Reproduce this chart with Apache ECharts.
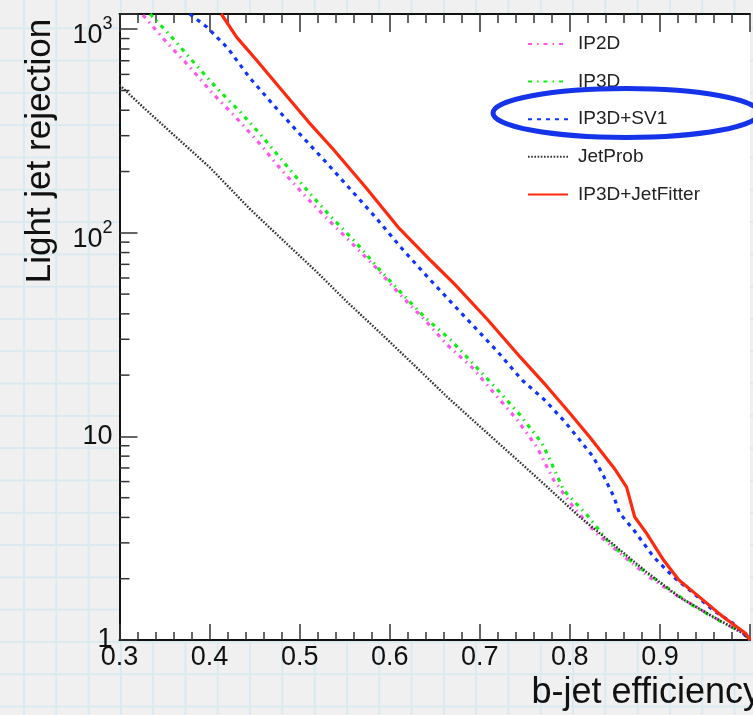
<!DOCTYPE html>
<html>
<head>
<meta charset="utf-8">
<script src="https://cdn.jsdelivr.net/npm/echarts@6/dist/echarts.min.js"></script>
<style>
html, body { margin: 0; padding: 0; }
body {
  width: 753px; height: 715px; overflow: hidden;
  background-color: #f0f0f0;
  background-image:
    linear-gradient(to right, #d9eaf0 2px, transparent 2px),
    linear-gradient(to bottom, #d9eaf0 2px, transparent 2px);
  background-size: 32.3px 32.3px;
  background-position: 23px 27.3px;
}
#main { width: 753px; height: 715px; }
</style>
</head>
<body>
<div id="main"></div>
<script>
// b-jet efficiency vs light jet rejection
var names = ['IP2D', 'IP3D', 'IP3D+SV1', 'JetProb', 'IP3D+JetFitter'];

var ip2d = [[0.326,1174],[0.352,865],[0.378,652],[0.403,486],[0.430,366],[0.455,276],[0.480,203],
  [0.507,150],[0.532,115.6],[0.560,87.1],[0.585,67.2],[0.612,49.5],[0.639,37.3],[0.664,28.1],
  [0.692,21.7],[0.716,16.3],[0.742,12.0],[0.764,8.77],[0.782,6.11],[0.804,4.50],[0.828,3.39],
  [0.855,2.68],[0.888,2.04],[0.921,1.63],[0.959,1.30],[0.992,1.08],[1.0,1.0]];

var ip3d = [[0.334,1188],[0.358,915],[0.383,682],[0.408,514],[0.435,388],[0.460,292],[0.485,215],
  [0.510,158.6],[0.535,119.6],[0.562,90.1],[0.587,67.2],[0.613,50.6],[0.640,38.1],[0.668,29.7],
  [0.694,22.4],[0.720,16.9],[0.745,12.7],[0.769,9.28],[0.777,7.83],[0.793,5.45],[0.819,4.11],
  [0.844,2.99],[0.872,2.36],[0.904,1.86],[0.935,1.49],[0.968,1.23],[0.995,1.07],[1.0,1.0]];

var sv1 = [[0.378,1188],[0.397,1025],[0.420,809],[0.444,582],[0.469,434],[0.496,320],[0.529,223],
  [0.554,168],[0.584,119.6],[0.613,84.2],[0.642,60.7],[0.668,45.7],[0.694,34.5],[0.720,26.0],
  [0.747,18.9],[0.772,15.1],[0.793,12.0],[0.811,9.6],[0.826,7.92],[0.838,6.32],[0.849,5.04],
  [0.855,4.21],[0.871,3.47],[0.893,2.56],[0.915,2.04],[0.937,1.70],[0.959,1.40],[0.981,1.21],[1.0,1.0]];

var jetProb = [[0.300,532],[0.326,415],[0.363,295],[0.400,210],[0.444,132],[0.480,93.3],[0.518,64.9],
  [0.554,45.2],[0.591,31.8],[0.628,22.2],[0.664,15.6],[0.701,11.1],[0.738,7.92],[0.775,5.64],
  [0.811,4.02],[0.849,2.93],[0.885,2.16],[0.921,1.63],[0.959,1.30],[0.992,1.08],[1.0,1.0]];

var jetFitter = [[0.413,1188],[0.430,915],[0.452,706],[0.480,503],[0.510,350],[0.538,255],[0.573,168],
  [0.609,107],[0.646,72.7],[0.672,56.0],[0.709,37.3],[0.745,24.5],[0.775,17.5],[0.800,13.0],
  [0.822,9.93],[0.849,7.0],[0.863,5.64],[0.872,4.02],[0.885,3.35],[0.904,2.47],[0.921,1.97],
  [0.948,1.57],[0.970,1.30],[0.995,1.08],[1.0,1.0]];

var yMinorTicks = [2,3,4,5,6,7,8,9,20,30,40,50,60,70,80,90,200,300,400,500,600,700,800,900];

var font = '"Liberation Sans", Arial, sans-serif';
var chart = echarts.init(document.getElementById('main'));

function line(name, data, color, width, dash) {
  return {
    name: name, type: 'line', data: data, symbol: 'none', showSymbol: false,
    lineStyle: { color: color, width: width, type: dash },
    itemStyle: { color: color }, z: 3
  };
}

var tickStyle = { color: '#333', width: 1.5 };

var option = {
  animation: false,
  backgroundColor: 'transparent',
  grid: { left: 119.5, top: 14, width: 636.5, height: 626, show: true, backgroundColor: '#fff', borderWidth: 0 },
  legend: {
    orient: 'vertical', left: 527, top: 34.5, itemWidth: 40, itemHeight: 14, itemGap: 18.6,
    padding: 0, data: names,
    itemStyle: { opacity: 0 },
    textStyle: { fontFamily: font, fontSize: 19, color: '#222', padding: [0, 0, 0, 5] }
  },
  xAxis: [{
    type: 'value', min: 0.3, max: 1.0, interval: 0.1,
    axisLine: { show: true, lineStyle: { color: '#111', width: 2 } },
    axisTick: { show: true, inside: true, length: 16, lineStyle: tickStyle },
    minorTick: { show: true, splitNumber: 5, length: 8, lineStyle: tickStyle },
    axisLabel: {
      margin: 4, fontSize: 27, fontFamily: font, color: '#111',
      formatter: function (v) { return v > 0.95 ? '' : v.toFixed(1); }
    },
    splitLine: { show: false }
  }, {
    type: 'value', position: 'top', min: 0.3, max: 1.0, interval: 0.1,
    axisLine: { show: true, lineStyle: { color: '#111', width: 2 } },
    axisTick: { show: true, inside: true, length: 18, lineStyle: tickStyle },
    minorTick: { show: true, splitNumber: 5, length: 9, lineStyle: tickStyle },
    axisLabel: { show: false },
    splitLine: { show: false }
  }],
  yAxis: {
    type: 'log', logBase: 10, min: 1, max: 1188,
    axisLine: { show: true, lineStyle: { color: '#111', width: 2 } },
    axisTick: { show: true, inside: true, length: 18, lineStyle: tickStyle },
    axisLabel: {
      margin: 7, fontSize: 27, fontFamily: font, color: '#111',
      formatter: function (v) {
        var l = Math.log10(v), e = Math.round(l);
        if (Math.abs(l - e) > 1e-6) return '';
        if (e === 0) return '1';
        if (e === 1) return '10';
        return '{b|10}{s|' + e + '}';
      },
      rich: {
        b: { fontSize: 27, fontFamily: font, color: '#111', lineHeight: 40, verticalAlign: 'bottom' },
        s: { fontSize: 18, fontFamily: font, color: '#111', lineHeight: 40, verticalAlign: 'top', padding: [6, 0, 0, 0] }
      }
    },
    splitLine: { show: false }
  },
  graphic: [
    { type: 'ellipse', z: 100, shape: { cx: 626, cy: 113, rx: 133, ry: 24.5 },
      style: { fill: 'none', stroke: '#1533e8', lineWidth: 5 } },
    { type: 'text', x: 40, y: 151, rotation: Math.PI / 2,
      style: { text: 'Light jet rejection', font: '35px ' + font, fill: '#111', align: 'center', verticalAlign: 'middle' } },
    { type: 'text', x: 761, y: 693,
      style: { text: 'b-jet efficiency', font: '36px ' + font, fill: '#111', align: 'right', verticalAlign: 'middle' } }
  ],
  series: [
    line('IP2D', ip2d, '#ff55ee', 3.2, [4, 5, 1.5, 5]),
    line('IP3D', ip3d, '#11ee11', 3.2, [4, 5, 1.5, 5]),
    line('IP3D+SV1', sv1, '#1133ff', 3.2, [4, 5]),
    line('JetProb', jetProb, '#333333', 2.4, [1.6, 1.6]),
    line('IP3D+JetFitter', jetFitter, '#ff2a0d', 3.2, 'solid'),
    {
      type: 'custom', silent: true, z: 4,
      data: yMinorTicks.map(function (v) { return [0.3, v]; }),
      renderItem: function (params, api) {
        var p = api.coord([api.value(0), api.value(1)]);
        return { type: 'line', shape: { x1: p[0], y1: p[1], x2: p[0] + 10, y2: p[1] },
          style: { stroke: '#333', lineWidth: 1.5 } };
      }
    }
  ]
};
chart.setOption(option);
</script>
</body>
</html>
